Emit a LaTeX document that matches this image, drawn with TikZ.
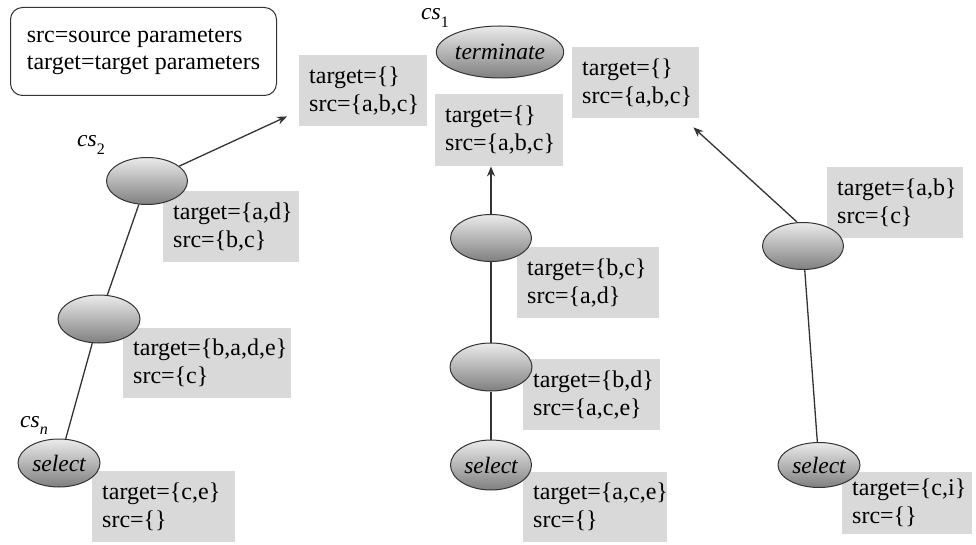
\documentclass[tikz,border=0pt]{standalone}
\usepackage{fontspec}
\setmainfont{Liberation Serif}
\usetikzlibrary{shapes.geometric,arrows.meta,calc}

\definecolor{boxgray}{HTML}{D9D9D9}
\definecolor{edgegray}{HTML}{333333}

% state label such as cs_1
\newcommand\cslabel[1]{\textit{cs}\raisebox{-0.3em}{\fontsize{16}{16}\selectfont #1}}

\tikzset{
  pbox/.style={fill=boxgray, anchor=north west, align=left,
               inner xsep=10pt, inner ysep=0pt,
               font=\fontsize{24}{28}\selectfont},
  state/.style={ellipse, draw=edgegray, line width=1pt,
                top color=black!8, bottom color=black!50,
                minimum width=81pt, minimum height=47pt, inner sep=0pt,
                font=\fontsize{23.5}{27}\selectfont\itshape},
  cs/.style={anchor=base west, inner sep=0pt,
             font=\fontsize{23.5}{27}\selectfont},
  link/.style={draw=edgegray, line width=1.3pt},
  arr/.style={link, -{Stealth[length=10pt,width=8pt]}},
}

\begin{document}
\begin{tikzpicture}[x=1pt, y=-1pt]
\useasboundingbox (0,0) rectangle (976,545);

% legend
\node[draw=edgegray, line width=1pt, rounded corners=12pt, anchor=north west,
      align=left, minimum width=266pt, minimum height=88pt,
      font=\fontsize{24}{27}\selectfont] (legend) at (10,7)
  {src=source parameters\\target=target parameters};

% state labels
\node[cs] (lcs1) at (421,20) {\cslabel{1}};
\node[cs] (lcs2) at (77,147) {\cslabel{2}};
\node[cs] (lcsn) at (20,427) {\cslabel{\textit{n}}};

% parameter boxes (drawn first, states sit on top of them)
\node[pbox, text width=108pt, minimum height=71pt] (b1) at (299,55)  {target=\{\}\\src=\{a,b,c\}};
\node[pbox, text width=108pt, minimum height=72pt] (b2) at (435,94)  {target=\{\}\\src=\{a,b,c\}};
\node[pbox, text width=107pt, minimum height=71pt] (b3) at (572,47)  {target=\{\}\\src=\{a,b,c\}};
\node[pbox, text width=116pt, minimum height=71pt] (b4) at (163,191) {target=\{a,d\}\\src=\{b,c\}};
\node[pbox, text width=148pt, minimum height=70pt] (b5) at (123,328) {target=\{b,a,d,e\}\\src=\{c\}};
\node[pbox, text width=123pt, minimum height=71pt] (b6) at (92,471)  {target=\{c,e\}\\src=\{\}};
\node[pbox, text width=122pt, minimum height=71pt] (b7) at (517,247) {target=\{b,c\}\\src=\{a,d\}};
\node[pbox, text width=117pt, minimum height=71pt] (b8) at (523,359) {target=\{b,d\}\\src=\{a,c,e\}};
\node[pbox, text width=124pt, minimum height=70pt] (b9) at (523,472) {target=\{a,c,e\}\\src=\{\}};
\node[pbox, text width=116pt, minimum height=71pt] (b10) at (827,167) {target=\{a,b\}\\src=\{c\}};
\node[pbox, text width=110pt, minimum height=62pt] (b11) at (842,472) {target=\{c,i\}\\src=\{\}};

% states
\node[state, minimum width=114pt, minimum height=52pt] (t1) at (500,52) {terminate};
\node[state] (e2) at (147,181) {};
\node[state, minimum width=82pt, minimum height=48pt] (e3) at (99,319) {};
\node[state, minimum width=82pt, minimum height=48pt] (s1) at (59,463) {select};
\node[state] (m1) at (491,238) {};
\node[state, minimum width=82pt, minimum height=48pt] (m2) at (491,367) {};
\node[state, minimum height=50pt] (ms) at (491,465) {select};
\node[state] (r1) at (803,246) {};
\node[state, minimum width=82pt, minimum height=45pt] (rs) at (819,465) {select};

% left chain
\draw[arr] (e2) -- ($(b1.south west)+(-12,-10)$);
\draw[link] (e2) -- (e3);
\draw[link] (e3) -- (s1);

% middle chain
\draw[arr] (m1.north) -- (m1.north |- b2.south);
\draw[link] (m1) -- (m2);
\draw[link] (m2) -- (ms);

% right chain
\draw[arr] ($(r1.north)+(-6,0)$) -- ($(b3.south east)+(-6,9)$);
\draw[link] (r1) -- (rs);
\end{tikzpicture}
\end{document}
